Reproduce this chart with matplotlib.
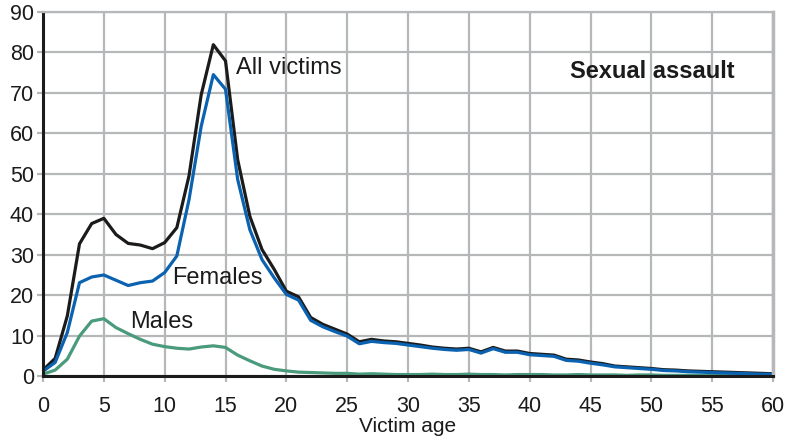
import numpy as np
import matplotlib
matplotlib.use("Agg")
import matplotlib.pyplot as plt

plt.rcParams['font.family'] = ['Liberation Sans', 'DejaVu Sans']

# Victim age (years)
age = np.arange(0, 61)

# Number of victims by age
all_victims = [1.5, 4.4, 14.9, 32.7, 37.7, 39.0, 35.0, 32.8, 32.4, 31.5,
               33.0, 36.7, 49.5, 69.5, 81.9, 77.9, 53.5, 39.5, 31.3, 26.4,
               21.0, 19.6, 14.5, 12.8, 11.6, 10.4, 8.5, 9.1, 8.7, 8.5,
               8.1, 7.7, 7.2, 6.9, 6.7, 6.9, 6.0, 7.1, 6.2, 6.2,
               5.6, 5.4, 5.2, 4.2, 4.0, 3.5, 3.1, 2.5, 2.3, 2.1,
               1.9, 1.6, 1.5, 1.3, 1.2, 1.1, 1.0, 0.9, 0.8, 0.7, 0.6]
females = [1.2, 3.4, 10.8, 23.1, 24.5, 25.0, 23.7, 22.4, 23.1, 23.5,
           25.6, 29.7, 43.6, 61.7, 74.5, 70.9, 48.6, 36.2, 28.8, 24.3,
           20.2, 18.8, 13.8, 12.2, 11.0, 9.9, 8.0, 8.6, 8.3, 8.1,
           7.7, 7.3, 6.9, 6.6, 6.4, 6.6, 5.7, 6.8, 5.9, 5.9,
           5.3, 5.1, 4.9, 3.9, 3.7, 3.2, 2.8, 2.3, 2.1, 1.9,
           1.7, 1.4, 1.3, 1.1, 1.0, 0.9, 0.8, 0.7, 0.6, 0.5, 0.5]
males = [0.5, 1.5, 4.2, 9.9, 13.6, 14.2, 12.0, 10.5, 9.1, 7.9,
         7.3, 6.9, 6.7, 7.2, 7.5, 7.1, 5.2, 3.8, 2.5, 1.7,
         1.3, 1.0, 0.9, 0.8, 0.7, 0.7, 0.5, 0.6, 0.5, 0.4,
         0.4, 0.4, 0.5, 0.4, 0.4, 0.5, 0.4, 0.4, 0.3, 0.4,
         0.4, 0.4, 0.3, 0.3, 0.4, 0.3, 0.3, 0.3, 0.2, 0.3,
         0.3, 0.2, 0.2, 0.2, 0.2, 0.2, 0.2, 0.2, 0.2, 0.2, 0.2]

fig = plt.figure(figsize=(7.86, 4.41), dpi=100)
ax = fig.add_axes([0.0547, 0.147, 0.9288, 0.826])

grid_col = "#b5b7b9"
txt_col = "#1b1b1b"
ax.grid(True, color=grid_col, lw=1.6)
ax.set_axisbelow(True)

ax.plot(age, males, color="#4a9a7c", lw=2.3)
ax.plot(age, all_victims, color=txt_col, lw=2.3)
ax.plot(age, females, color="#0a62b0", lw=2.3)

ax.set_xlim(0, 60)
ax.set_ylim(0, 90)
ax.set_xticks(np.arange(0, 61, 5))
ax.set_yticks(np.arange(0, 91, 10))
ax.tick_params(axis='both', colors=grid_col, width=1.6, length=4, labelsize=15.5, labelcolor=txt_col)
ax.tick_params(axis='x', pad=10)
ax.tick_params(axis='y', pad=2.5)

for s in ["top", "right"]:
    ax.spines[s].set_color(grid_col)
    ax.spines[s].set_linewidth(1.6)
ax.spines["right"].set_linewidth(2.5)
for s in ["left", "bottom"]:
    ax.spines[s].set_color(txt_col)
    ax.spines[s].set_linewidth(2.2)

ax.set_xlabel("Victim age", fontsize=15, color=txt_col, labelpad=0)

ax.text(15.9, 76.2, "All victims", fontsize=17, color=txt_col, va="center")
ax.text(10.6, 24.2, "Females", fontsize=17, color=txt_col, va="center")
ax.text(7.15, 13.4, "Males", fontsize=17, color=txt_col, va="center")
ax.text(43.3, 75.2, "Sexual assault", fontsize=17, fontweight="bold", color=txt_col, va="center")

plt.savefig("out.png", dpi=100)
